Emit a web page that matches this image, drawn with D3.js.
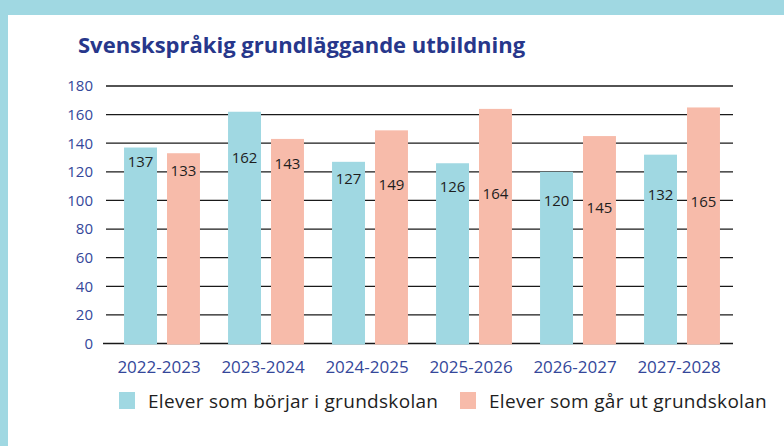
<!DOCTYPE html>
<html>
<head>
<meta charset="utf-8">
<script src="https://cdn.jsdelivr.net/npm/d3@7"></script>
<style>
  body { margin: 0; background: #fff; }
  svg { display: block; font-family: "Open Sans", sans-serif; }
</style>
</head>
<body>
<script>
/* Data */

var years = ["2022-2023", "2023-2024", "2024-2025", "2025-2026", "2026-2027", "2027-2028"];
var borjar = [137, 162, 127, 126, 120, 132];   // Elever som börjar i grundskolan
var gar_ut = [133, 143, 149, 164, 145, 165];   // Elever som går ut grundskolan
// where each value label sits, in axis units
var borjarLabelAt = [127, 130, 115, 110, 100, 104];
var garUtLabelAt = [121, 126, 111, 105, 95, 99];
var yTicks = [0, 20, 40, 60, 80, 100, 120, 140, 160, 180];
var seriesNames = ["Elever som börjar i grundskolan", "Elever som går ut grundskolan"];

var title = "Svenskspråkig grundläggande utbildning";

/* Setup */

var width = 784;
var height = 446;
var blue = "#a0d8e2";
var salmon = "#f7bbaa";
var navy = "#27378b";
var axisBlue = "#34479a";

var svg = d3.select("body").append("svg")
	.attr("width", width)
	.attr("height", height);

// frame bands
svg.append("rect").attr("x", 0).attr("y", 0).attr("width", width).attr("height", 15).attr("fill", blue);
svg.append("rect").attr("x", 0).attr("y", 0).attr("width", 8).attr("height", height).attr("fill", blue);

svg.append("text")
	.attr("x", 78)
	.attr("y", 53)
	.attr("fill", navy)
	.attr("font-size", 22)
	.attr("font-weight", "bold")
	.text(title);

var x = d3.scaleBand()
	.domain(years)
	.range([110, 734])
	.paddingInner(0.27)
	.paddingOuter(0.135);

var xSub = d3.scaleBand()
	.domain([0, 1])
	.range([0, x.bandwidth()])
	.paddingInner(0.233);

var y = d3.scaleLinear()
	.domain([0, 180])
	.range([343.5, 86]);

// gridlines
svg.append("g")
	.selectAll("line")
	.data(yTicks)
	.enter().append("line")
		.attr("x1", function(d) { return d == 0 ? 103 : 106; })
		.attr("x2", 733)
		.attr("y1", function(d) { return y(d); })
		.attr("y2", function(d) { return y(d); })
		.attr("stroke", "#1a1a1a")
		.attr("stroke-width", function(d) { return d == 0 ? 1.6 : 1.3; });

// y labels
svg.append("g")
	.selectAll("text")
	.data(yTicks)
	.enter().append("text")
		.attr("x", 93)
		.attr("y", function(d) { return y(d); })
		.attr("dy", "0.36em")
		.attr("text-anchor", "end")
		.attr("fill", axisBlue)
		.attr("font-size", 15)
		.text(function(d) { return d; });

// bars
var rows = years.map(function(yr, i) {
	return [
		{year: yr, s: 0, value: borjar[i], labelAt: borjarLabelAt[i]},
		{year: yr, s: 1, value: gar_ut[i], labelAt: garUtLabelAt[i]}
	];
});
var flat = [].concat.apply([], rows);

svg.append("g")
	.selectAll("rect")
	.data(flat)
	.enter().append("rect")
		.attr("x", function(d) { return x(d.year) + xSub(d.s); })
		.attr("y", function(d) { return y(d.value); })
		.attr("width", xSub.bandwidth())
		.attr("height", function(d) { return y(0) - y(d.value) + 1; })
		.attr("fill", function(d) { return d.s == 0 ? blue : salmon; });

svg.append("g")
	.selectAll("text")
	.data(flat)
	.enter().append("text")
		.attr("x", function(d) { return x(d.year) + xSub(d.s) + xSub.bandwidth() / 2; })
		.attr("y", function(d) { return y(d.labelAt); })
		.attr("dy", "0.36em")
		.attr("text-anchor", "middle")
		.attr("fill", "#1e1e1e")
		.attr("font-size", 15)
		.text(function(d) { return d.value; });

// x labels
svg.append("g")
	.selectAll("text")
	.data(years)
	.enter().append("text")
		.attr("x", function(d) { return x(d) + x.bandwidth() / 2 - 3; })
		.attr("y", 373)
		.attr("text-anchor", "middle")
		.attr("fill", axisBlue)
		.attr("font-size", 17)
		.text(function(d) { return d; });

// legend
var legendX = [119, 460];
var legend = svg.append("g")
	.selectAll("g")
	.data(seriesNames)
	.enter().append("g")
		.attr("transform", function(d, i) { return "translate(" + legendX[i] + ",392)"; });

legend.append("rect")
	.attr("width", 16)
	.attr("height", 17)
	.attr("fill", function(d, i) { return i == 0 ? blue : salmon; });

legend.append("text")
	.attr("x", 29)
	.attr("y", 16)
	.attr("fill", "#1e1e1e")
	.attr("font-size", 19)
	.attr("letter-spacing", 0.3)
	.text(function(d) { return d; });
</script>
</body>
</html>
